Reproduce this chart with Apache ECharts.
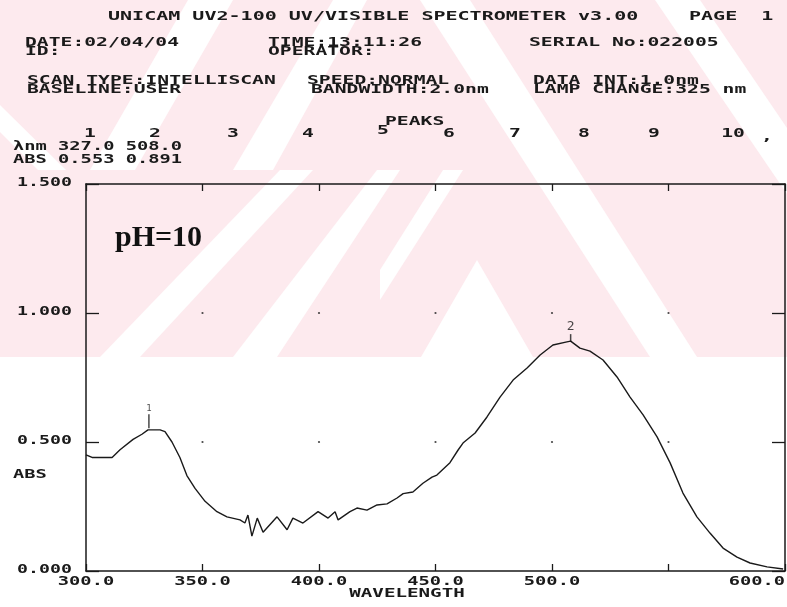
<!DOCTYPE html>
<html>
<head>
<meta charset="utf-8">
<script src="https://cdn.jsdelivr.net/npm/echarts@6/dist/echarts.min.js"></script>
<style>
html, body { margin: 0; padding: 0; background: #fff; }
#main { width: 787px; height: 607px; }
</style>
</head>
<body>
<div id="main"></div>
<script>
// scan readings (nm, ABS)
var wavelength = [300, 302.6, 311.2, 314.6, 320.2, 324, 326.6, 331.8, 333.9, 336.9,
  340.3, 343.3, 346.8, 351.1, 356.2, 360.5, 366.1, 368.2, 369.5, 371.2,
  373.5, 376, 379, 382, 386.3, 388.8, 393.1, 399.6, 403.9, 406.9,
  408.2, 413.3, 416.3, 420.6, 424.9, 429.2, 433.5, 436.1, 440.3, 444.6,
  448.5, 450.6, 456.2, 459.7, 461.8, 467, 472.1, 477.7, 483.3, 489.3,
  494.9, 500.4, 506.4, 508, 512, 516.3, 521.9, 527.9, 533.5, 539.1,
  545.1, 550.7, 556.2, 562.2, 567.8, 573.4, 579.4, 585, 592.3, 599.2];
var absorbance = [0.45, 0.44, 0.44, 0.47, 0.51, 0.53, 0.547, 0.547, 0.54, 0.50,
  0.44, 0.37, 0.32, 0.27, 0.23, 0.21, 0.198, 0.186, 0.217, 0.135,
  0.205, 0.15, 0.18, 0.21, 0.16, 0.205, 0.186, 0.23, 0.205, 0.23,
  0.198, 0.23, 0.244, 0.236, 0.256, 0.26, 0.283, 0.30, 0.306, 0.34,
  0.364, 0.372, 0.42, 0.469, 0.496, 0.535, 0.597, 0.674, 0.74, 0.787,
  0.837, 0.876, 0.888, 0.891, 0.864, 0.852, 0.818, 0.752, 0.674, 0.605,
  0.52, 0.419, 0.302, 0.21, 0.147, 0.089, 0.054, 0.031, 0.016, 0.008];

var peakNm = [327.0, 508.0];
var peakAbs = [0.553, 0.891];
var peakNames = ['1', '2'];

var xTicks = [300, 350, 400, 450, 500, 550, 600];
var xTickLabels = ['300.0', '350.0', '400.0', '450.0', '500.0', '', '600.0'];
var yTicks = [0, 0.5, 1.0, 1.5];
var yTickLabels = ['0.000', '0.500', '1.000', '1.500'];

// peak marker look
var peakStem = [14, 7];
var peakFont = [9, 13];

var chart = echarts.init(document.getElementById('main'));

var ink = '#1a1a1a';
var mono = 'DejaVu Sans Mono';

function printText(str, x, y, size, sx, align) {
    return {
        type: 'text', x: x, y: y, scaleX: sx, silent: true, z: 10,
        style: {
            text: str, fontFamily: mono, fontSize: size, fontWeight: 'bold', fill: ink,
            align: align || 'left', textAlign: align || 'left',
            verticalAlign: 'middle', textVerticalAlign: 'middle'
        }
    };
}

var lineData = wavelength.map(function (w, i) { return [w, absorbance[i]]; });

var peakData = peakNm.map(function (w, i) {
    return {
        value: [w, peakAbs[i]],
        symbolSize: [1.5, peakStem[i]],
        symbolOffset: [0, -peakStem[i] / 2],
        label: { fontSize: peakFont[i] }
    };
});

var dotData = [];
xTicks.slice(1, -1).forEach(function (x) {
    yTicks.slice(1, -1).forEach(function (y) { dotData.push([x, y]); });
});

function xAxisOpt(pos) {
    return {
        type: 'value', position: pos, min: 300, max: 600, interval: 50,
        axisLine: { show: true, onZero: false, lineStyle: { color: ink, width: 1.5 } },
        axisTick: { show: true, inside: true, length: 7, lineStyle: { color: ink, width: 1.3 } },
        axisLabel: { show: false },
        splitLine: { show: false }
    };
}
function yAxisOpt(pos) {
    return {
        type: 'value', position: pos, min: 0, max: 1.5, interval: 0.5,
        axisLine: { show: true, onZero: false, lineStyle: { color: ink, width: 1.5 } },
        axisTick: { show: true, inside: true, length: 13, lineStyle: { color: ink, width: 1.3 } },
        axisLabel: { show: false },
        splitLine: { show: false }
    };
}

chart.setOption({
    animation: false,
    backgroundColor: '#fff',
    grid: { left: 86, right: 2, top: 184, bottom: 36 },
    xAxis: [xAxisOpt('bottom'), xAxisOpt('top')],
    yAxis: [yAxisOpt('left'), yAxisOpt('right')],
    series: [
        {
            type: 'line', data: lineData, showSymbol: false, symbol: 'none',
            lineStyle: { color: ink, width: 1.4 }, z: 3
        },
        {
            type: 'scatter', data: peakData, symbol: 'rect',
            itemStyle: { color: ink }, z: 4,
            label: {
                show: true, position: 'top', distance: 1, color: ink, fontFamily: mono,
                formatter: function (p) { return peakNames[p.dataIndex]; }
            }
        },
        {
            type: 'scatter', data: dotData, symbolSize: 2.2,
            itemStyle: { color: ink }, silent: true, z: 2
        }
    ]
});

// faint watermark stripes behind the page
var pink = '#fdeaee';
var els = [
    { type: 'rect', shape: { x: 0, y: 0, width: 787, height: 357 }, style: { fill: pink }, z: -10, silent: true }
];
var whiteBands = [
    [[0, 105], [66, 170], [38, 170], [0, 132]],
    [[90, 170], [135, 170], [233, 0], [188, 0]],
    [[233, 170], [273, 170], [367, 0], [333, 0]],
    [[420, 0], [470, 0], [697, 357], [650, 357]],
    [[655, 0], [700, 0], [787, 128], [787, 194]],
    [[100, 357], [140, 357], [313, 170], [280, 170]],
    [[233, 357], [277, 357], [400, 170], [377, 170]],
    [[380, 270], [380, 300], [463, 170], [443, 170]],
    [[477, 260], [533, 357], [421, 357]]
];
whiteBands.forEach(function (pts) {
    els.push({ type: 'polygon', shape: { points: pts }, style: { fill: '#fff' }, z: -9, silent: true });
});

// printout header
els.push(printText('UNICAM UV2-100 UV/VISIBLE SPECTROMETER v3.00', 108, 17, 13, 1.54));
els.push(printText('PAGE  1', 689, 17, 13, 1.54));
els.push(printText('DATE:02/04/04', 25, 43, 12, 1.64));
els.push(printText('ID:', 25, 52, 12, 1.64));
els.push(printText('TIME:13:11:26', 268, 43, 12, 1.64));
els.push(printText('OPERATOR:', 268, 52, 12, 1.64));
els.push(printText('SERIAL No:022005', 529, 43, 12, 1.64));
els.push(printText('SCAN TYPE:INTELLISCAN', 27, 81, 12, 1.64));
els.push(printText('BASELINE:USER', 27, 90, 12, 1.64));
els.push(printText('SPEED:NORMAL', 307, 81, 12, 1.64));
els.push(printText('BANDWIDTH:2.0nm', 311, 90, 12, 1.64));
els.push(printText('DATA INT:1.0nm', 533, 81, 12, 1.64));
els.push(printText('LAMP CHANGE:325 nm', 533, 90, 12, 1.64));
els.push(printText('PEAKS', 385, 122, 12, 1.64));
var slotX = [90, 155, 233, 308, 383, 449, 515, 584, 654, 733];
slotX.forEach(function (x, i) {
    els.push(printText(String(i + 1), x, i === 4 ? 131 : 134, 12, 1.64, 'center'));
});
els.push(printText(',', 767, 137, 12, 1.64, 'center'));
els.push(printText('\u03bbnm ' + peakNm.map(function (v) { return v.toFixed(1); }).join(' '), 13, 147, 12, 1.56));
els.push(printText('ABS ' + peakAbs.map(function (v) { return v.toFixed(3); }).join(' '), 13, 160, 12, 1.56));

// axis labels placed through the chart's own scales
xTicks.forEach(function (v, i) {
    if (!xTickLabels[i]) return;
    var px = chart.convertToPixel({ xAxisIndex: 0 }, v);
    if (i === xTicks.length - 1) {
        els.push(printText(xTickLabels[i], px, 582, 12, 1.56, 'right'));
    } else {
        els.push(printText(xTickLabels[i], px, 582, 12, 1.56, 'center'));
    }
});
yTicks.forEach(function (v, i) {
    var py = chart.convertToPixel({ yAxisIndex: 0 }, v);
    els.push(printText(yTickLabels[i], 72, py - 1, 12, 1.52, 'right'));
});
els.push(printText('ABS', 13, 475, 12, 1.56));
els.push(printText('WAVELENGTH', 407, 594, 12, 1.6, 'center'));

// handwritten-style note in the plot
els.push({
    type: 'text', x: 115, y: 238, silent: true, z: 10,
    style: {
        text: 'pH=10', fontFamily: 'Liberation Serif', fontWeight: 'bold', fontSize: 30, fill: '#111',
        align: 'left', textAlign: 'left', verticalAlign: 'middle', textVerticalAlign: 'middle'
    }
});

chart.setOption({ graphic: { elements: els } });
</script>
</body>
</html>
